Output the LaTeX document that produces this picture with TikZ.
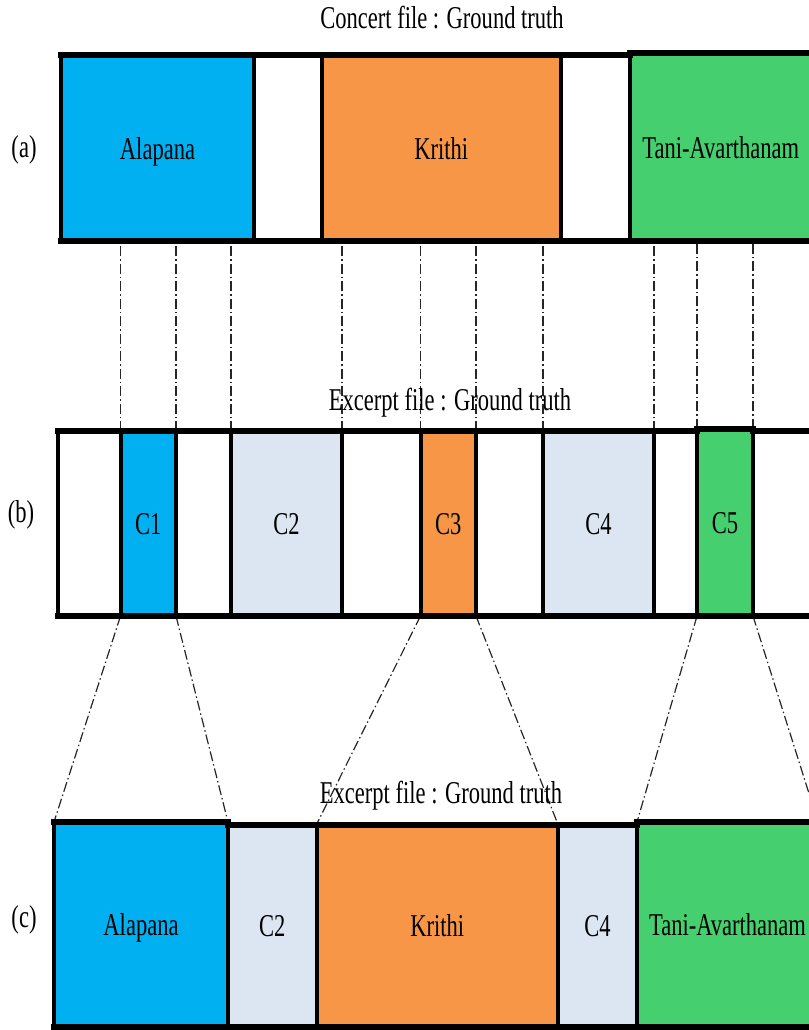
\documentclass[tikz,border=0pt]{standalone}
\usepackage{fontspec}
\setmainfont{Liberation Serif}
\usepackage{graphicx}
\usetikzlibrary{fit,backgrounds}

\definecolor{segblue}{HTML}{00B0F0}
\definecolor{segorange}{HTML}{F79646}
\definecolor{seggreen}{HTML}{45CF6F}
\definecolor{seglight}{HTML}{DCE6F2}

% condensed serif lettering
\newcommand\narrow[1]{\scalebox{0.71}[1]{#1}}

\begin{document}
\begin{tikzpicture}[x=0.75pt,y=-0.75pt,
  seg/.style={draw=black, line width=3pt, inner sep=0pt, outer sep=0pt},
  rim/.style={line width=4.5pt, line cap=rect},
  guide/.style={line width=0.9pt, draw=black!85,
    dash pattern=on 7.5pt off 2.25pt on 1.1pt off 2.25pt},
  caption/.style={anchor=base, inner sep=0pt,
    font=\fontsize{23.8}{28}\selectfont},
  inseg/.style={caption, yshift=-8.25pt},
]
\useasboundingbox (0,0) rectangle (808,1030);

% ---- (a) concert file
\node[caption] (title-a) at (442,29) {\narrow{Concert file : Ground truth}};
\node[caption] (lab-a) at (24,158) {\narrow{(a)}};
\node[seg, fill=segblue,   fit={(61,55.5)(254,241)}]    (a-alap)   {};
\node[seg, fill=white,     fit={(254,55.5)(321.5,241)}] (a-gap1)   {};
\node[seg, fill=segorange, fit={(321.5,55.5)(561,241)}] (a-krithi) {};
\node[seg, fill=white,     fit={(561,55.5)(629.5,241)}] (a-gap2)   {};
\node[seg, fill=seggreen,  fit={(629.5,53.5)(812,241)}] (a-tani)   {};

% ---- (b) excerpt file
\node[caption] (title-b) at (450,410) {\narrow{Excerpt file : Ground truth}};
\node[caption] (lab-b) at (21,522) {\narrow{(b)}};
\node[seg, fill=white,     fit={(57.5,431)(120.5,616)}] (b-g0) {};
\node[seg, fill=segblue,   fit={(120.5,431)(176,616)}]  (b-c1) {};
\node[seg, fill=white,     fit={(176,431)(231,616)}]    (b-g1) {};
\node[seg, fill=seglight,  fit={(231,431)(342,616)}]    (b-c2) {};
\node[seg, fill=white,     fit={(342,431)(420.5,616)}]  (b-g2) {};
\node[seg, fill=segorange, fit={(420.5,431)(476,616)}]  (b-c3) {};
\node[seg, fill=white,     fit={(476,431)(543,616)}]    (b-g3) {};
\node[seg, fill=seglight,  fit={(543,431)(654,616)}]    (b-c4) {};
\node[seg, fill=white,     fit={(654,431)(697,616)}]    (b-g4) {};
\node[seg, fill=seggreen,  fit={(697,428.5)(753,616)}]  (b-c5) {};
\node[seg, fill=white,     fit={(753,431)(815,616)}]    (b-g5) {};

% ---- (c) excerpt file, relabelled
\node[caption] (title-c) at (441,803) {\narrow{Excerpt file : Ground truth}};
\node[caption] (lab-c) at (24,927) {\narrow{(c)}};
\node[seg, fill=segblue,   fit={(54,822)(228,1027)}]      (c-alap)   {};
\node[seg, fill=seglight,  fit={(228,824.5)(316.5,1027)}] (c-c2)     {};
\node[seg, fill=segorange, fit={(316.5,824.5)(558,1027)}] (c-krithi) {};
\node[seg, fill=seglight,  fit={(558,824.5)(637,1027)}]   (c-c4)     {};
\node[seg, fill=seggreen,  fit={(637,822)(818,1027)}]     (c-tani)   {};

% heavier top and bottom edges of every strip
\foreach \n in {a-alap,a-gap1,a-krithi,a-gap2,a-tani,
                b-g0,b-c1,b-g1,b-c2,b-g2,b-c3,b-g3,b-c4,b-g4,b-c5,b-g5,
                c-alap,c-c2,c-krithi,c-c4,c-tani}
  \draw[rim] (\n.north west) -- (\n.north east) (\n.south west) -- (\n.south east);

% segment names
\foreach \n/\t in {a-alap/Alapana, a-krithi/Krithi, a-tani/Tani-Avarthanam,
                   b-c1/C1, b-c2/C2, b-c3/C3, b-c4/C4, b-c5/C5,
                   c-alap/Alapana, c-c2/C2, c-krithi/Krithi, c-c4/C4,
                   c-tani/Tani-Avarthanam}
  \node[inseg] (\n-txt) at (\n.center) {\narrow{\t}};

% projection guides behind the strips
\begin{scope}[on background layer]
  \foreach \n in {b-c1,b-c2,b-c3,b-c4,b-c5} {
    \draw[guide] (\n.north west) -- (\n.north west |- a-alap.south);
    \draw[guide] (\n.north east) -- (\n.north east |- a-alap.south);
  }
  \draw[guide] (b-c1.south west) -- (c-alap.north west);
  \draw[guide] (b-c1.south east) -- (c-alap.north east);
  \draw[guide] (b-c3.south west) -- (c-krithi.north west);
  \draw[guide] (b-c3.south east) -- (c-krithi.north east);
  \draw[guide] (b-c5.south west) -- (c-tani.north west);
  \draw[guide] (b-c5.south east) -- (c-tani.north east);
\end{scope}
\end{tikzpicture}
\end{document}
